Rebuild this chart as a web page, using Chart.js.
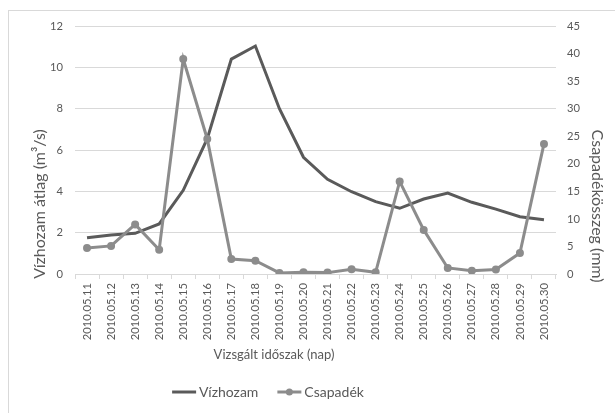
<!DOCTYPE html>
<html>
<head>
<meta charset="utf-8">
<script src="https://cdn.jsdelivr.net/npm/chart.js@4.4.1/dist/chart.umd.min.js"></script>
<style>
  html, body { margin: 0; padding: 0; background: #ffffff; }
  #wrap { width: 615px; height: 413px; }
</style>
</head>
<body>
<div id="wrap"><canvas id="chart" width="615" height="413"></canvas></div>
<script>
// Daily observation dates
const dates = [
  '2010.05.11', '2010.05.12', '2010.05.13', '2010.05.14', '2010.05.15',
  '2010.05.16', '2010.05.17', '2010.05.18', '2010.05.19', '2010.05.20',
  '2010.05.21', '2010.05.22', '2010.05.23', '2010.05.24', '2010.05.25',
  '2010.05.26', '2010.05.27', '2010.05.28', '2010.05.29', '2010.05.30'
];

// Mean discharge, m3/s (left axis)
const vizhozam = [
  1.75, 1.89, 1.97, 2.42, 4.05, 6.55, 10.4, 11.03, 8.0, 5.65,
  4.58, 3.98, 3.5, 3.18, 3.63, 3.92, 3.47, 3.14, 2.77, 2.63
];

// Daily precipitation, mm (right axis)
const csapadek = [
  4.7, 5.1, 9.0, 4.4, 39.0, 24.5, 2.7, 2.4, 0.2, 0.3,
  0.25, 0.85, 0.3, 16.8, 8.0, 1.1, 0.6, 0.8, 3.8, 23.6
];

// Axis ranges and titles
const leftAxis = { min: 0, max: 12, step: 2 };
const rightAxis = { min: 0, max: 45, step: 5 };
const leftTitle = 'Vízhozam átlag (m³/s)';
const rightTitle = 'Csapadékösszeg (mm)';
const xTitle = 'Vizsgált időszak (nap)';

const FONT = 'Lato';
const TEXT = '#595959';
const GRID = '#d9d9d9';
const DARK = '#5a5a5a';
const LIGHT = '#8c8c8c';

Chart.defaults.font.family = FONT;
Chart.defaults.color = TEXT;

// Outer frame around the chart
const framePlugin = {
  id: 'frame',
  beforeDraw(chart) {
    const ctx = chart.ctx;
    ctx.save();
    ctx.fillStyle = '#ffffff';
    ctx.fillRect(0, 0, chart.width, chart.height);
    ctx.strokeStyle = GRID;
    ctx.lineWidth = 1;
    ctx.strokeRect(8.5, 10.5, chart.width, chart.height);
    ctx.restore();
  }
};

// Axis titles and legend
const annotatePlugin = {
  id: 'annotate',
  afterDraw(chart) {
    const ctx = chart.ctx;
    ctx.save();
    ctx.fillStyle = TEXT;
    ctx.textBaseline = 'middle';
    ctx.textAlign = 'center';

    // left axis title
    ctx.save();
    ctx.font = '16px ' + FONT;
    ctx.translate(40, 204);
    ctx.rotate(-Math.PI / 2);
    ctx.fillText(leftTitle, 0, 0);
    ctx.restore();

    // right axis title
    ctx.save();
    ctx.font = '16px ' + FONT;
    ctx.translate(597, 206);
    ctx.rotate(Math.PI / 2);
    ctx.fillText(rightTitle, 0, 0);
    ctx.restore();

    // x axis title
    ctx.font = '13px ' + FONT;
    ctx.fillText(xTitle, 274, 355);

    // legend
    ctx.font = '14px ' + FONT;
    ctx.textAlign = 'left';
    const items = chart.data.datasets.map(ds => ({
      label: ds.label, color: ds.borderColor, marker: ds.pointRadius > 0
    }));
    const sample = 24, gap = 3, between = 19;
    let total = 0;
    items.forEach((it, i) => {
      it.w = ctx.measureText(it.label).width;
      total += sample + gap + it.w + (i ? between : 0);
    });
    let x = 268 - total / 2;
    const y = 392;
    items.forEach((it, i) => {
      if (i) x += between;
      ctx.strokeStyle = it.color;
      ctx.lineWidth = 3;
      ctx.beginPath();
      ctx.moveTo(x, y);
      ctx.lineTo(x + sample, y);
      ctx.stroke();
      if (it.marker) {
        ctx.fillStyle = it.color;
        ctx.beginPath();
        ctx.arc(x + sample / 2, y, 3.5, 0, Math.PI * 2);
        ctx.fill();
      }
      ctx.fillStyle = TEXT;
      ctx.fillText(it.label, x + sample + gap, y);
      x += sample + gap + it.w;
    });
    ctx.restore();
  }
};

new Chart(document.getElementById('chart'), {
  type: 'line',
  data: {
    labels: dates,
    datasets: [
      {
        label: 'Vízhozam',
        data: vizhozam,
        yAxisID: 'y',
        borderColor: DARK,
        backgroundColor: DARK,
        borderWidth: 3,
        pointRadius: 0,
        pointHoverRadius: 0,
        tension: 0,
        order: 2
      },
      {
        label: 'Csapadék',
        data: csapadek,
        yAxisID: 'y1',
        borderColor: LIGHT,
        backgroundColor: LIGHT,
        borderWidth: 3,
        pointRadius: 4,
        pointHoverRadius: 4,
        pointBorderWidth: 0,
        tension: 0,
        order: 1
      }
    ]
  },
  options: {
    responsive: false,
    animation: false,
    events: [],
    layout: { padding: { top: 26, left: 0, right: 0, bottom: 0 } },
    plugins: {
      legend: { display: false },
      tooltip: { enabled: false }
    },
    scales: {
      x: {
        type: 'category',
        offset: true,
        grid: {
          offset: true,
          drawOnChartArea: false,
          drawTicks: true,
          tickLength: 5,
          color: GRID
        },
        border: { display: true, color: GRID, width: 1 },
        ticks: {
          autoSkip: false,
          minRotation: 90,
          maxRotation: 90,
          padding: 4,
          font: { size: 11.2 },
          color: TEXT
        },
        afterFit(scale) { scale.height = 139; }
      },
      y: {
        position: 'left',
        min: leftAxis.min,
        max: leftAxis.max,
        ticks: { stepSize: leftAxis.step, padding: 12, font: { size: 11.2 }, color: TEXT },
        grid: { color: GRID, drawTicks: false },
        border: { display: false },
        afterFit(scale) { scale.width = 75; }
      },
      y1: {
        position: 'right',
        min: rightAxis.min,
        max: rightAxis.max,
        ticks: { stepSize: rightAxis.step, padding: 11, font: { size: 11.2 }, color: TEXT },
        grid: { drawOnChartArea: false, drawTicks: false },
        border: { display: false },
        afterFit(scale) { scale.width = 59; }
      }
    }
  },
  plugins: [framePlugin, annotatePlugin]
});
</script>
</body>
</html>
